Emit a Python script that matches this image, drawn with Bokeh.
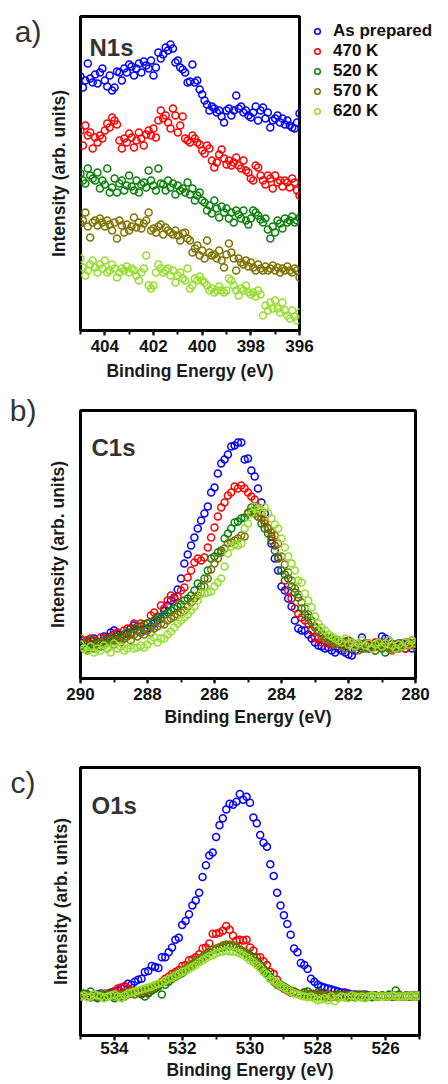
from bokeh.plotting import figure
from bokeh.models import (Range1d, SingleIntervalTicker, FixedTicker, Label,
                          Legend, LegendItem, ColumnDataSource, LinearAxis)
from bokeh.layouts import column
from bokeh.embed import file_html
from bokeh.resources import INLINE

series_names = ["As prepared", "470 K", "520 K", "570 K", "620 K"]
series_colors = ["#0000ff", "#ff0000", "#0a800a", "#7f7200", "#95de2e"]
panel_tags = ["a)", "b)", "c)"]
panel_titles = ["N1s", "C1s", "O1s"]

# ---------------- N1s ----------------
n1s_energy = [
    405.0, 404.9, 404.8, 404.7, 404.6, 404.5, 404.4, 404.3, 404.2, 404.1,
    404.0, 403.9, 403.8, 403.7, 403.6, 403.5, 403.4, 403.3, 403.2, 403.1,
    403.0, 402.9, 402.8, 402.7, 402.6, 402.5, 402.4, 402.3, 402.2, 402.1,
    402.0, 401.9, 401.8, 401.7, 401.6, 401.5, 401.4, 401.3, 401.2, 401.1,
    401.0, 400.9, 400.8, 400.7, 400.6, 400.5, 400.4, 400.3, 400.2, 400.1,
    400.0, 399.9, 399.8, 399.7, 399.6, 399.5, 399.4, 399.3, 399.2, 399.1,
    399.0, 398.9, 398.8, 398.7, 398.6, 398.5, 398.4, 398.3, 398.2, 398.1,
    398.0, 397.9, 397.8, 397.7, 397.6, 397.5, 397.4, 397.3, 397.2, 397.1,
    397.0, 396.9, 396.8, 396.7, 396.6, 396.5, 396.4, 396.3, 396.2, 396.1,
    396.0]
n1s_as_prepared = [
    254, 243, 250, 267, 252, 248, 256, 247, 258, 262,
    250, 244, 255, 240, 243, 259, 258, 250, 262, 258,
    266, 264, 255, 262, 267, 258, 269, 265, 262, 270,
    255, 263, 278, 272, 276, 283, 280, 286, 282, 268,
    270, 263, 261, 258, 248, 249, 266, 248, 250, 241,
    236, 230, 226, 220, 224, 222, 218, 220, 214, 208,
    220, 222, 215, 220, 235, 222, 224, 218, 220, 215,
    213, 218, 224, 210, 220, 223, 212, 218, 203, 210,
    212, 215, 208, 212, 206, 210, 205, 203, 202, 208,
    217]
n1s_470 = [
    200, 185, 205, 195, 198, 182, 193, 188, 195, 192,
    200, 207, 203, 213, 210, 206, 190, 182, 192, 188,
    197, 193, 183, 190, 198, 192, 185, 196, 200, 195,
    202, 193, 210, 220, 212, 215, 208, 202, 222, 215,
    198, 205, 214, 192, 190, 188, 195, 192, 188, 186,
    180, 177, 185, 182, 170, 163, 168, 176, 181, 172,
    166, 170, 165, 168, 173, 165, 162, 170, 160, 158,
    152, 150, 165, 163, 155, 150, 146, 155, 152, 142,
    155, 148, 150, 144, 150, 148, 143, 152, 148, 140,
    135]
n1s_520 = [
    157, 150, 147, 162, 155, 152, 150, 158, 142, 150,
    146, 162, 138, 143, 152, 138, 147, 150, 140, 145,
    155, 144, 140, 150, 138, 146, 148, 143, 160, 150,
    145, 140, 162, 147, 146, 140, 150, 143, 147, 136,
    145, 140, 142, 138, 148, 136, 142, 130, 135, 138,
    130, 128, 120, 125, 117, 130, 122, 113, 124, 118,
    122, 112, 118, 108, 120, 116, 112, 120, 110, 106,
    112, 120, 118, 115, 111, 108, 112, 101, 92, 104,
    98, 110, 107, 102, 112, 108, 110, 114, 108, 110,
    113]
n1s_570 = [
    107, 110, 118, 104, 93, 108, 110, 105, 112, 108,
    104, 110, 106, 100, 108, 92, 110, 105, 98, 106,
    100, 104, 113, 103, 108, 102, 107, 110, 118, 100,
    102, 98, 104, 106, 96, 103, 100, 98, 96, 100,
    95, 90, 97, 98, 92, 90, 78, 82, 85, 75,
    80, 72, 90, 78, 75, 76, 72, 80, 70, 63,
    76, 87, 78, 72, 60, 72, 68, 66, 70, 64,
    68, 63, 60, 66, 62, 60, 64, 60, 62, 65,
    60, 63, 58, 62, 60, 64, 60, 58, 62, 60,
    53]
n1s_620 = [
    72, 63, 55, 60, 66, 70, 63, 58, 66, 62,
    70, 58, 60, 66, 62, 53, 58, 62, 60, 64,
    58, 62, 60, 55, 50, 58, 62, 75, 45, 42,
    45, 58, 66, 62, 58, 60, 62, 55, 60, 48,
    55, 58, 52, 50, 62, 42, 45, 52, 50, 54,
    50, 48, 45, 40, 42, 38, 40, 44, 40, 38,
    40, 52, 50, 45, 40, 35, 42, 40, 45, 38,
    36, 38, 34, 40, 36, 15, 25, 20, 28, 22,
    30, 22, 18, 28, 20, 15, 12, 20, 14, 10,
    18]

# ---------------- C1s ----------------
c1s_energy = [
    290.0, 289.9, 289.8, 289.7, 289.6, 289.5, 289.4, 289.3, 289.2, 289.1,
    289.0, 288.9, 288.8, 288.7, 288.6, 288.5, 288.4, 288.3, 288.2, 288.1,
    288.0, 287.9, 287.8, 287.7, 287.6, 287.5, 287.4, 287.3, 287.2, 287.1,
    287.0, 286.9, 286.8, 286.7, 286.6, 286.5, 286.4, 286.3, 286.2, 286.1,
    286.0, 285.9, 285.8, 285.7, 285.6, 285.5, 285.4, 285.3, 285.2, 285.1,
    285.0, 284.9, 284.8, 284.7, 284.6, 284.5, 284.4, 284.3, 284.2, 284.1,
    284.0, 283.9, 283.8, 283.7, 283.6, 283.5, 283.4, 283.3, 283.2, 283.1,
    283.0, 282.9, 282.8, 282.7, 282.6, 282.5, 282.4, 282.3, 282.2, 282.1,
    282.0, 281.9, 281.8, 281.7, 281.6, 281.5, 281.4, 281.3, 281.2, 281.1,
    281.0, 280.9, 280.8, 280.7, 280.6, 280.5, 280.4, 280.3, 280.2, 280.1,
    280.0]
c1s_as_prepared = [
    36, 35, 38, 34, 40, 37, 36, 42, 40, 46,
    48, 44, 42, 40, 45, 50, 53, 48, 46, 48,
    50, 52, 55, 58, 60, 68, 73, 78, 81, 89,
    100, 115, 124, 133, 141, 150, 158, 165, 172, 186,
    191, 205, 215, 219, 224, 232, 233, 236, 236, 219,
    220, 208, 202, 190, 176, 165, 150, 135, 120, 108,
    92, 88, 80, 72, 58, 50, 48, 48, 44, 40,
    36, 33, 32, 30, 31, 28, 26, 30, 28, 26,
    24, 23, 28, 32, 41, 35, 30, 33, 32, 36,
    42, 40, 38, 34, 30, 32, 35, 30, 33, 30,
    32]
c1s_470 = [
    34, 38, 36, 40, 38, 36, 41, 40, 38, 42,
    44, 46, 42, 48, 50, 46, 55, 52, 55, 54,
    55, 63, 66, 62, 73, 70, 78, 83, 80, 82,
    88, 91, 101, 108, 116, 120, 118, 121, 131, 141,
    151, 162, 171, 176, 183, 186, 192, 190, 193, 190,
    186, 182, 179, 171, 165, 158, 150, 142, 133, 121,
    108, 98, 88, 80, 70, 65, 61, 58, 55, 48,
    41, 40, 36, 38, 35, 34, 38, 36, 33, 35,
    38, 36, 32, 33, 30, 35, 34, 32, 36, 33,
    34, 36, 32, 30, 34, 35, 32, 30, 36, 34,
    35]
c1s_520 = [
    32, 35, 30, 38, 34, 36, 32, 38, 36, 40,
    38, 42, 40, 44, 46, 44, 50, 48, 52, 50,
    55, 52, 58, 61, 60, 64, 66, 68, 70, 72,
    74, 78, 80, 83, 88, 95, 92, 100, 108, 120,
    122, 126, 128, 140, 145, 150, 156, 157, 160, 161,
    165, 171, 168, 162, 155, 150, 145, 138, 128, 120,
    108, 104, 100, 92, 86, 81, 70, 64, 61, 56,
    51, 48, 45, 42, 38, 40, 36, 38, 35, 37,
    34, 36, 32, 35, 30, 33, 35, 30, 28, 32,
    30, 26, 32, 34, 30, 35, 33, 36, 34, 38,
    36]
c1s_570 = [
    40, 30, 28, 32, 30, 34, 36, 33, 30, 38,
    34, 38, 36, 40, 42, 38, 44, 42, 46, 44,
    48, 46, 50, 52, 55, 54, 58, 60, 62, 64,
    66, 68, 72, 76, 80, 83, 86, 92, 100, 109,
    115, 120, 126, 130, 135, 136, 138, 140, 143, 142,
    166, 167, 165, 162, 160, 155, 150, 146, 143, 135,
    122, 114, 106, 98, 90, 84, 76, 70, 64, 58,
    52, 48, 44, 40, 38, 36, 34, 36, 32, 30,
    34, 30, 32, 28, 33, 30, 35, 32, 28, 34,
    32, 36, 30, 28, 34, 30, 32, 36, 33, 35,
    32]
c1s_620 = [
    34, 30, 28, 32, 26, 30, 28, 33, 30, 26,
    35, 30, 32, 28, 30, 33, 30, 31, 33, 31,
    34, 38, 41, 36, 40, 40, 44, 47, 51, 55,
    58, 61, 64, 68, 72, 78, 85, 85, 86, 87,
    92, 96, 100, 112, 125, 132, 134, 133, 135, 150,
    155, 165, 172, 170, 168, 171, 165, 160, 154, 150,
    140, 131, 122, 115, 108, 98, 96, 85, 78, 71,
    62, 55, 51, 48, 44, 42, 40, 38, 36, 40,
    34, 36, 32, 35, 38, 33, 35, 30, 34, 36,
    32, 35, 38, 33, 30, 34, 32, 36, 34, 38,
    35]

# ---------------- O1s ----------------
o1s_energy = [
    535.0, 534.9, 534.8, 534.7, 534.6, 534.5, 534.4, 534.3, 534.2, 534.1,
    534.0, 533.9, 533.8, 533.7, 533.6, 533.5, 533.4, 533.3, 533.2, 533.1,
    533.0, 532.9, 532.8, 532.7, 532.6, 532.5, 532.4, 532.3, 532.2, 532.1,
    532.0, 531.9, 531.8, 531.7, 531.6, 531.5, 531.4, 531.3, 531.2, 531.1,
    531.0, 530.9, 530.8, 530.7, 530.6, 530.5, 530.4, 530.3, 530.2, 530.1,
    530.0, 529.9, 529.8, 529.7, 529.6, 529.5, 529.4, 529.3, 529.2, 529.1,
    529.0, 528.9, 528.8, 528.7, 528.6, 528.5, 528.4, 528.3, 528.2, 528.1,
    528.0, 527.9, 527.8, 527.7, 527.6, 527.5, 527.4, 527.3, 527.2, 527.1,
    527.0, 526.9, 526.8, 526.7, 526.6, 526.5, 526.4, 526.3, 526.2, 526.1,
    526.0, 525.9, 525.8, 525.7, 525.6, 525.5, 525.4, 525.3, 525.2, 525.1,
    525.0]
o1s_as_prepared = [
    40, 41, 42, 40, 41, 42, 43, 41, 42, 44,
    45, 46, 48, 50, 53, 52, 55, 57, 58, 65,
    66, 71, 70, 69, 80, 80, 85, 90, 98, 100,
    113, 117, 124, 133, 138, 146, 162, 174, 184, 187,
    203, 215, 222, 231, 237, 236, 239, 247, 241, 244,
    238, 223, 217, 205, 197, 193, 175, 163, 146, 133,
    123, 114, 103, 89, 85, 74, 72, 68, 58, 55,
    52, 50, 49, 48, 47, 46, 45, 44, 44, 43,
    42, 42, 41, 41, 42, 41, 40, 41, 40, 41,
    40, 41, 40, 40, 41, 40, 40, 41, 40, 40,
    41]
o1s_470 = [
    40, 41, 40, 39, 41, 40, 42, 40, 41, 43,
    45, 48, 49, 50, 48, 46, 45, 44, 43, 45,
    43, 46, 48, 52, 55, 58, 60, 63, 65, 67,
    71, 72, 77, 78, 80, 83, 89, 90, 94, 104,
    104, 105, 107, 112, 108, 102, 97, 98, 97, 98,
    90, 87, 80, 80, 76, 72, 65, 63, 57, 52,
    48, 46, 44, 45, 43, 42, 44, 42, 43, 41,
    42, 43, 41, 40, 41, 42, 40, 41, 42, 40,
    41, 40, 42, 40, 41, 40, 40, 41, 40, 41,
    40, 41, 40, 41, 40, 40, 41, 40, 40, 41,
    40]
o1s_520 = [
    41, 43, 42, 45, 40, 38, 42, 40, 43, 41,
    38, 41, 40, 42, 44, 43, 45, 44, 42, 40,
    44, 46, 48, 50, 42, 52, 55, 58, 60, 62,
    64, 67, 70, 72, 75, 77, 80, 82, 85, 88,
    88, 90, 90, 92, 91, 92, 90, 88, 86, 84,
    82, 80, 76, 72, 68, 64, 60, 56, 54, 52,
    50, 48, 46, 44, 43, 42, 44, 45, 40, 42,
    44, 42, 40, 39, 41, 40, 42, 40, 41, 40,
    40, 39, 41, 42, 40, 40, 39, 41, 40, 41,
    40, 42, 41, 46, 42, 40, 41, 40, 41, 40,
    40]
o1s_570 = [
    40, 42, 41, 39, 42, 40, 41, 43, 40, 41,
    40, 42, 41, 40, 42, 43, 42, 44, 45, 46,
    47, 48, 50, 52, 54, 55, 57, 60, 62, 64,
    66, 68, 71, 73, 76, 78, 80, 83, 86, 88,
    89, 90, 92, 93, 93, 92, 91, 88, 86, 83,
    80, 77, 74, 70, 66, 62, 58, 55, 52, 50,
    48, 47, 45, 44, 43, 42, 41, 42, 40, 41,
    40, 41, 40, 42, 39, 40, 41, 40, 39, 41,
    40, 41, 40, 39, 41, 40, 41, 40, 40, 41,
    40, 40, 41, 40, 41, 40, 40, 41, 40, 40,
    41]
o1s_620 = [
    40, 41, 39, 40, 42, 41, 40, 38, 40, 41,
    42, 40, 38, 41, 43, 44, 45, 46, 47, 48,
    49, 50, 52, 53, 54, 56, 58, 59, 61, 63,
    65, 66, 68, 70, 72, 75, 77, 79, 81, 82,
    84, 85, 86, 87, 86, 86, 85, 84, 82, 80,
    77, 75, 72, 69, 65, 62, 58, 56, 54, 51,
    49, 47, 45, 43, 42, 41, 40, 39, 40, 38,
    36, 37, 38, 36, 40, 35, 38, 40, 39, 38,
    41, 40, 39, 40, 38, 40, 41, 40, 40, 40,
    40, 40, 41, 40, 40, 40, 40, 41, 40, 40,
    41]

FONT = "Liberation Sans"
DARK = "#111111"
LABEL_GREY = "#333333"


def make_panel(energy, series, x_start, x_end, y_top, fw, fh,
               bl, br, bt, bb, y_label_standoff, tick_standoff, x_label_standoff):
    p = figure(frame_width=fw, frame_height=fh,
               min_border_left=bl, min_border_right=br,
               min_border_top=bt, min_border_bottom=bb,
               x_range=Range1d(x_start, x_end), y_range=Range1d(0, y_top),
               output_backend="svg", toolbar_location=None)
    p.background_fill_color = "white"
    p.border_fill_color = "white"
    p.outline_line_color = "black"
    p.outline_line_width = 3
    p.xgrid.visible = False
    p.ygrid.visible = False

    xa = p.xaxis[0]
    xa.ticker = SingleIntervalTicker(interval=2, num_minor_ticks=2)
    xa.axis_line_color = None
    xa.major_tick_in = 0
    xa.major_tick_out = 5
    xa.minor_tick_in = 0
    xa.minor_tick_out = 4
    xa.major_tick_line_width = 2
    xa.minor_tick_line_width = 2
    xa.major_tick_line_color = DARK
    xa.minor_tick_line_color = DARK
    xa.major_label_text_font = FONT
    xa.major_label_text_font_style = "bold"
    xa.major_label_text_font_size = "17px"
    xa.major_label_text_color = DARK
    xa.major_label_standoff = tick_standoff
    xa.axis_label = "Binding Energy (eV)"
    xa.axis_label_text_font = FONT
    xa.axis_label_text_font_style = "bold"
    xa.axis_label_text_font_size = "17.5px"
    xa.axis_label_text_color = "#1a1a1a"
    xa.axis_label_standoff = x_label_standoff

    ya = p.yaxis[0]
    ya.ticker = FixedTicker(ticks=[], minor_ticks=[])
    ya.axis_line_color = None
    ya.major_tick_line_color = None
    ya.minor_tick_line_color = None
    ya.major_tick_out = 0
    ya.minor_tick_out = 0
    ya.major_label_standoff = 0
    ya.axis_label = "Intensity (arb. units)"
    ya.axis_label_text_font = FONT
    ya.axis_label_text_font_style = "bold"
    ya.axis_label_text_font_size = "17.5px"
    ya.axis_label_text_color = "#1a1a1a"
    ya.axis_label_standoff = y_label_standoff

    renderers = []
    for vals, color in zip(series, series_colors):
        src = ColumnDataSource(data=dict(x=energy, y=vals))
        r = p.scatter("x", "y", source=src, marker="circle", size=7,
                      fill_color=None, line_color=color, line_width=1.5)
        renderers.append(r)
    return p, renderers


def add_title(p, text, x, y):
    p.add_layout(Label(x=x, y=y, x_units="screen", y_units="screen", text=text,
                       text_font=FONT, text_font_size="24px",
                       text_font_style="bold", text_color=LABEL_GREY,
                       text_baseline="alphabetic", text_align="left"))


def add_tag(p, text, tick, standoff):
    # panel tag "a)", "b)", "c)" shown as the single tick label of an outer left axis
    ax = LinearAxis(ticker=FixedTicker(ticks=[tick], minor_ticks=[]),
                    major_label_overrides={tick: text},
                    axis_line_color=None,
                    major_tick_line_color=None, minor_tick_line_color=None,
                    major_tick_in=0, major_tick_out=0,
                    minor_tick_in=0, minor_tick_out=0,
                    major_label_standoff=standoff,
                    major_label_text_font=FONT,
                    major_label_text_font_size="30px",
                    major_label_text_font_style="normal",
                    major_label_text_color=LABEL_GREY)
    p.add_layout(ax, "left")


# Panel a) N1s  (frame 80..299 x 16..330)
pA, rA = make_panel(n1s_energy,
                    [n1s_as_prepared, n1s_470, n1s_520, n1s_570, n1s_620],
                    405, 396, 314, 219, 314, 80, 149, 16, 55, 12, 4, 6)
legend = Legend(items=[LegendItem(label=n, renderers=[r])
                       for n, r in zip(series_names, rA)],
                location="top_left", orientation="vertical",
                padding=0, margin=5, spacing=0,
                glyph_width=26, glyph_height=14, label_standoff=3,
                label_height=14,
                label_text_font=FONT, label_text_font_style="bold",
                label_text_font_size="17px", label_text_color=DARK,
                border_line_color=None, background_fill_alpha=0)
pA.add_layout(legend, "right")
add_tag(pA, panel_tags[0], 299, 4)
add_title(pA, panel_titles[0], 9, 283)

# Panel b) C1s  (frame 79..414 x 410..678)
pB, rB = make_panel(c1s_energy,
                    [c1s_as_prepared, c1s_470, c1s_520, c1s_570, c1s_620],
                    290, 280, 268, 335, 268, 79, 34, 25, 53, 13, 4, 4)
add_tag(pB, panel_tags[1], 268, 8)
add_title(pB, panel_titles[1], 11, 231)

# Panel c) O1s  (frame 79..418 x 766..1034)
pC, rC = make_panel(o1s_energy,
                    [o1s_as_prepared, o1s_470, o1s_520, o1s_570, o1s_620],
                    535, 525, 274, 339, 268, 79, 30, 36, 49, 10, 1, 3)
add_tag(pC, panel_tags[2], 259, 12)
add_title(pC, panel_titles[2], 11, 230)

layout = column(pA, pB, pC, spacing=0)

with open("out.html", "w") as f:
    f.write(file_html(layout, INLINE))
